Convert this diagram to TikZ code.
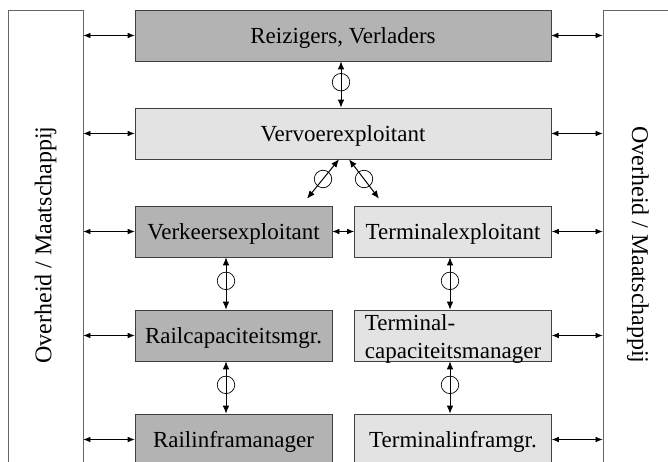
\documentclass[tikz,border=0pt]{standalone}
\usepackage{fontspec}
\setmainfont{Liberation Serif}
\usepackage{graphicx}
\usetikzlibrary{arrows.meta}
\definecolor{darkfill}{RGB}{179,179,179}
\definecolor{lightfill}{RGB}{227,227,227}
\begin{document}
\begin{tikzpicture}[x=1pt, y=-1pt,
      every node/.style = {font=\fontsize{23}{27.5}\selectfont},
      base/.style={draw=black!75, line width=0.6pt, inner sep=0pt, minimum height=51pt},
      box/.style={base, text height=16pt, text depth=0pt},
      wide/.style={box, minimum width=416pt},
      column/.style={box, minimum width=197pt},
      dark/.style={fill=darkfill},
      light/.style={fill=lightfill},
      side/.style={draw=black!60, line width=0.8pt, minimum height=470pt, inner sep=0pt, font=\fontsize{24}{28}\selectfont},
      ring/.style={circle, draw, line width=0.7pt, minimum size=17.5pt, inner sep=0pt, fill=none},
      link/.style={{Latex[length=7pt,width=5.5pt]}-{Latex[length=7pt,width=5.5pt]}, line width=0.6pt},
      flow/.style={{Latex[length=8pt,width=6.5pt]}-{Latex[length=8pt,width=6.5pt]}, line width=1pt}]
      \path[use as bounding box] (0,0) rectangle (668,462);
      \clip (0,0) rectangle (668,462);
      % side boxes
      \node[side, minimum width=75pt] (ovl) at (45.5,245) {\rotatebox{90}{Overheid / Maatschappij}};
      \node[side, minimum width=70pt] (ovr) at (638,245) {\rotatebox{-90}{Overheid / Maatschappij}};
      % layers
      \node[wide, dark] (reiz) at (343,35.5) {Reizigers, Verladers};
      \node[wide, light] (vervoer) at (343,133.5) {Vervoerexploitant};
      \node[column, dark] (verk) at (233.5,231.5) {Verkeersexploitant};
      \node[column, light] (termx) at (453,231.5) {Terminalexploitant};
      \node[column, dark] (railcap) at (233.5,335.5) {Railcapaciteitsmgr.};
      \node[base, light, minimum width=197pt, align=left, text height=45pt, text depth=0pt] (termcap) at (453,335.5) {Terminal-\\capaciteitsmanager};
      \node[column, dark] (railinfra) at (233.5,439.5) {Railinframanager};
      \node[column, light] (terminfra) at (453,439.5) {Terminalinframgr.};
      % links to the sides
      \foreach \n in {reiz, vervoer, verk, railcap, railinfra}
        \draw[link] (ovl.east |- \n) -- (\n.west);
      \foreach \n in {reiz, vervoer, termx, termcap, terminfra}
        \draw[link] (\n.east) -- (ovr.west |- \n);
      \draw[link] (verk.east) -- (termx.west);
      % flows
      \draw[flow] ([xshift=-2pt]reiz.south) -- node[ring, pos=0.45] (r1) {} ([xshift=-2pt]vervoer.north);
      \draw[flow] ([xshift=-4pt]vervoer.south) -- node[ring] (r2) {} ([xshift=73.5pt, yshift=7pt]verk.north);
      \draw[flow] ([xshift=6pt]vervoer.south) -- node[ring] (r3) {} ([xshift=-74pt, yshift=7pt]termx.north);
      \draw[flow] ([xshift=-7.5pt]verk.south) -- node[ring, pos=0.45] (r4) {} ([xshift=-7.5pt]railcap.north);
      \draw[flow] ([xshift=-7.5pt]railcap.south) -- node[ring, pos=0.45] (r5) {} ([xshift=-7.5pt]railinfra.north);
      \draw[flow] ([xshift=-3pt]termx.south) -- node[ring, pos=0.45] (r6) {} ([xshift=-3pt]termcap.north);
      \draw[flow] ([xshift=-3pt]termcap.south) -- node[ring, pos=0.45] (r7) {} ([xshift=-3pt]terminfra.north);
    \end{tikzpicture}
\end{document}
